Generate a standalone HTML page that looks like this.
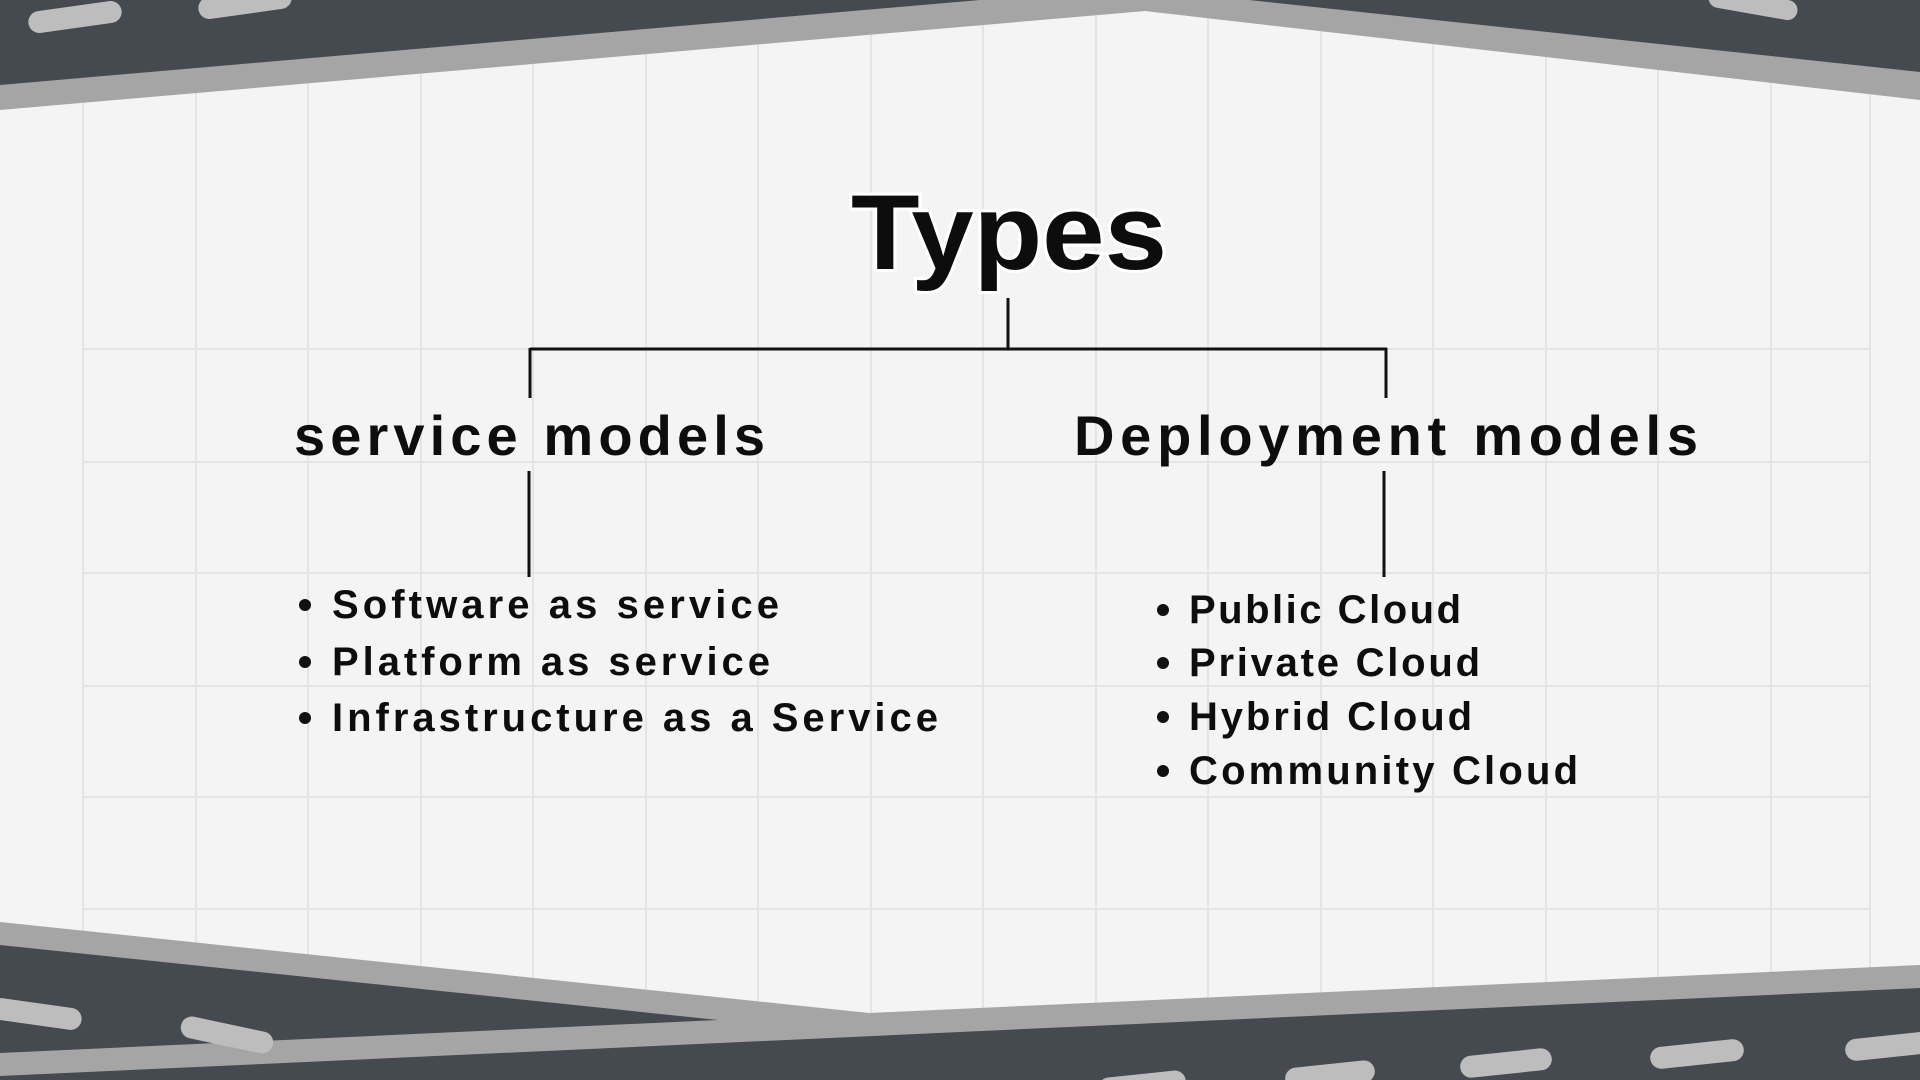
<!DOCTYPE html>
<html><head><meta charset="utf-8"><style>
html,body{margin:0;padding:0;width:1920px;height:1080px;overflow:hidden;background:#f4f4f4}
svg{display:block}
text{font-family:"Liberation Sans",sans-serif;font-weight:bold;fill:#0d0d0d}
</style></head><body>
<svg width="1920" height="1080" viewBox="0 0 1920 1080" xmlns="http://www.w3.org/2000/svg">
<rect width="1920" height="1080" fill="#f4f4f4"/>
<g stroke="#e4e4e4" stroke-width="2">
<line x1="83" y1="0" x2="83" y2="1080"/><line x1="196" y1="0" x2="196" y2="1080"/><line x1="308" y1="0" x2="308" y2="1080"/><line x1="421" y1="0" x2="421" y2="1080"/><line x1="533" y1="0" x2="533" y2="1080"/><line x1="646" y1="0" x2="646" y2="1080"/><line x1="758" y1="0" x2="758" y2="1080"/><line x1="871" y1="0" x2="871" y2="1080"/><line x1="983" y1="0" x2="983" y2="1080"/><line x1="1096" y1="0" x2="1096" y2="1080"/><line x1="1208" y1="0" x2="1208" y2="1080"/><line x1="1321" y1="0" x2="1321" y2="1080"/><line x1="1433" y1="0" x2="1433" y2="1080"/><line x1="1546" y1="0" x2="1546" y2="1080"/><line x1="1658" y1="0" x2="1658" y2="1080"/><line x1="1771" y1="0" x2="1771" y2="1080"/><line x1="1870" y1="0" x2="1870" y2="1080"/>
<line x1="83" y1="349" x2="1870" y2="349"/><line x1="83" y1="462" x2="1870" y2="462"/><line x1="83" y1="573" x2="1870" y2="573"/><line x1="83" y1="686" x2="1870" y2="686"/><line x1="83" y1="797" x2="1870" y2="797"/><line x1="83" y1="909" x2="1870" y2="909"/>
</g>
<!-- top band -->
<polygon points="0,0 1920,0 1920,100 1145,11 0,110" fill="#a5a5a5"/>
<polygon points="0,0 980,0 0,85" fill="#454950"/>
<polygon points="1249,0 1920,0 1920,72" fill="#454950"/>
<g fill="#bdbdbd">
<rect x="28" y="6" width="94" height="22" rx="11" transform="rotate(-8 75 17)"/>
<rect x="198" y="-8" width="94" height="22" rx="11" transform="rotate(-8 245 3)"/>
<rect x="1708" y="-6" width="90" height="20" rx="10" transform="rotate(10 1753 4)"/>
</g>
<!-- bottom band -->
<polygon points="0,922 869,1013 1920,965 1920,1080 0,1080" fill="#a5a5a5"/>
<polygon points="0,945 718,1020 0,1053" fill="#454950"/>
<polygon points="0,1076 1920,988 1920,1080 0,1080" fill="#454950"/>
<g fill="#bdbdbd">
<rect x="-10" y="1003" width="92" height="22" rx="11" transform="rotate(8 36 1014)"/>
<rect x="180" y="1024" width="94" height="22" rx="11" transform="rotate(12 227 1035)"/>
<rect x="1098" y="1074" width="88" height="22" rx="11" transform="rotate(-6 1142 1085)"/>
<rect x="1285" y="1064" width="90" height="22" rx="11" transform="rotate(-6 1330 1075)"/>
<rect x="1460" y="1052" width="92" height="22" rx="11" transform="rotate(-6 1506 1063)"/>
<rect x="1650" y="1043" width="94" height="22" rx="11" transform="rotate(-6 1697 1054)"/>
<rect x="1845" y="1035" width="94" height="22" rx="11" transform="rotate(-6 1892 1046)"/>
</g>
<!-- connectors -->
<g stroke="#111" stroke-width="3" fill="none">
<line x1="1008" y1="298" x2="1008" y2="349"/>
<line x1="530" y1="349" x2="1387" y2="349"/>
<line x1="530" y1="348" x2="530" y2="398"/>
<line x1="1386" y1="348" x2="1386" y2="398"/>
<line x1="529" y1="471" x2="529" y2="577"/>
<line x1="1384" y1="471" x2="1384" y2="577"/>
</g>
<text x="851" y="269" font-size="107" textLength="316" lengthAdjust="spacingAndGlyphs" stroke="#fff" stroke-width="6" paint-order="stroke">Types</text>
<text x="294" y="455" font-size="56" textLength="471" lengthAdjust="spacing">service models</text>
<text x="1074" y="455" font-size="56" textLength="624" lengthAdjust="spacing">Deployment models</text>
<g font-size="40">
<circle cx="305" cy="605" r="6" fill="#111"/><text x="332" y="618" textLength="447" lengthAdjust="spacing">Software as service</text>
<circle cx="305" cy="662" r="6" fill="#111"/><text x="332" y="675" textLength="438" lengthAdjust="spacing">Platform as service</text>
<circle cx="305" cy="718" r="6" fill="#111"/><text x="332" y="731" textLength="606" lengthAdjust="spacing">Infrastructure as a Service</text>
<circle cx="1163" cy="610" r="6" fill="#111"/><text x="1189" y="623" textLength="272" lengthAdjust="spacing">Public Cloud</text>
<circle cx="1163" cy="663" r="6" fill="#111"/><text x="1189" y="676" textLength="291" lengthAdjust="spacing">Private Cloud</text>
<circle cx="1163" cy="717" r="6" fill="#111"/><text x="1189" y="730" textLength="283" lengthAdjust="spacing">Hybrid Cloud</text>
<circle cx="1163" cy="771" r="6" fill="#111"/><text x="1189" y="784" textLength="389" lengthAdjust="spacing">Community Cloud</text>
</g>
</svg>
</body></html>
